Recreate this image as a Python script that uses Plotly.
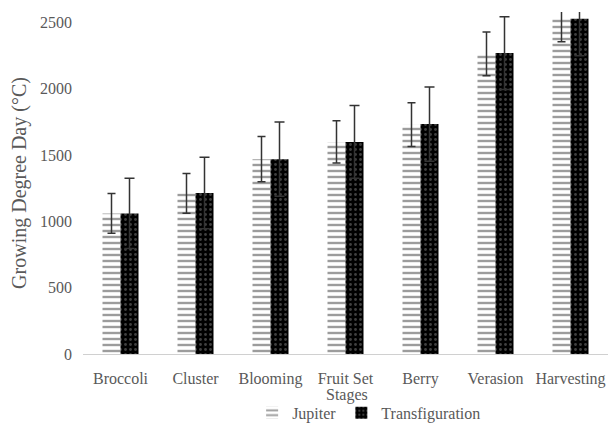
import plotly.graph_objects as go

stages = ["Broccoli", "Cluster", "Blooming", "Fruit Set", "Berry", "Verasion", "Harvesting"]
jupiter = [1060, 1212, 1470, 1600, 1730, 2265, 2530]
jupiter_err = [150, 150, 170, 160, 165, 165, 175]
transfig = [1060, 1215, 1470, 1600, 1735, 2270, 2530]
transfig_err = [265, 270, 280, 275, 280, 275, 280]

font_family = "Liberation Serif"
grey = "#595959"

fig = go.Figure()
fig.add_trace(go.Bar(
    name="Jupiter", x=stages, y=jupiter,
    error_y=dict(type="data", array=jupiter_err, color="#333333", thickness=1.5, width=4),
    marker=dict(color="white", line=dict(width=0),
                pattern=dict(shape="-", fgcolor="#3a3a3a", bgcolor="white", size=6, solidity=0.4, fillmode="overlay")),
))
fig.add_trace(go.Bar(
    name="Transfiguration", x=stages, y=transfig,
    error_y=dict(type="data", array=transfig_err, color="#333333", thickness=1.5, width=5),
    marker=dict(color="black", line=dict(width=0),
                pattern=dict(shape=".", fgcolor="#808080", bgcolor="black", size=5, solidity=0.25, fillmode="overlay")),
))

fig.update_layout(
    width=609, height=423,
    margin=dict(l=83, r=1, t=12, b=69, autoexpand=False),
    paper_bgcolor="white", plot_bgcolor="white",
    barmode="group", bargap=0.52, bargroupgap=0,
    font=dict(family=font_family, color=grey, size=16),
    showlegend=True,
    legend=dict(orientation="h", x=0.545, xanchor="center", yref="container", y=0.024, yanchor="middle",
                font=dict(family=font_family, size=16, color=grey), itemwidth=30, tracegroupgap=0),
    xaxis=dict(
        automargin=False,
        showline=True, linecolor="#d0d0d0", linewidth=1, ticks="", showgrid=False,
        tickfont=dict(family=font_family, size=16, color=grey), ticklabelstandoff=10,
    ),
    yaxis=dict(
        automargin=False,
        range=[0, 2580], tickvals=[0, 500, 1000, 1500, 2000, 2500],
        showgrid=False, zeroline=False, showline=False, ticks="",
        tickfont=dict(family=font_family, size=16, color=grey), ticklabelstandoff=10,
        title=dict(text="Growing Degree Day (°C)", font=dict(family=font_family, size=20, color=grey), standoff=8),
    ),
    annotations=[dict(text="Stages", xref="paper", yref="paper", x=0.503, y=-0.12,
                      xanchor="center", yanchor="middle", showarrow=False,
                      font=dict(family=font_family, size=16, color=grey))],
)

fig.write_html("out.html", config={"displayModeBar": False},
               post_script="document.body.style.margin='0';document.body.style.padding='0';")
